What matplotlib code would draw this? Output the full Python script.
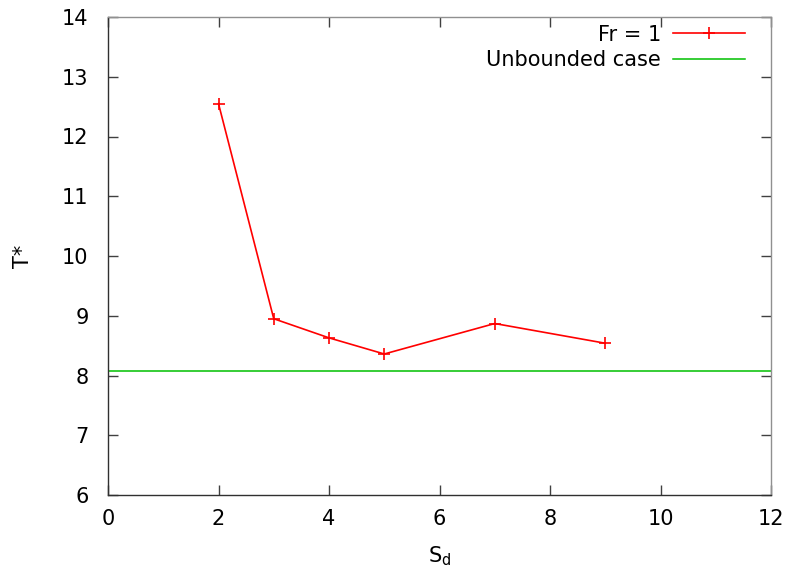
import matplotlib.pyplot as plt

# Period T* against separation S_d, Fr = 1
sd = [2, 3, 4, 5, 7, 9]
t_star = [12.55, 8.95, 8.63, 8.36, 8.87, 8.54]
t_unbounded = 8.08

x_ticks = [0, 2, 4, 6, 8, 10, 12]
y_ticks = [6, 7, 8, 9, 10, 11, 12, 13, 14]

plt.rcParams["font.family"] = "DejaVu Sans"
plt.rcParams["font.size"] = 15

fig = plt.figure(figsize=(7.88, 5.7), dpi=100)
ax = fig.add_axes([108 / 788, 1 - 495 / 570, (771 - 108) / 788, (495 - 17) / 570])

ax.plot(sd, t_star, color="#ff0000", marker="+", markersize=9,
        markeredgewidth=1.2, linewidth=1.2, label="Fr = 1")
ax.axhline(t_unbounded, color="#00c000", linewidth=1.1, label="Unbounded case")

ax.set_xlim(0, 12)
ax.set_ylim(6, 14)
ax.set_xticks(x_ticks)
ax.set_yticks(y_ticks)
ax.tick_params(direction="in", length=7, width=1, top=True, right=True,
               color="#404040")
ax.tick_params(axis="x", pad=10)
ax.tick_params(axis="y", pad=14)
for name, side in ax.spines.items():
    side.set_color("#303030" if name in ("left", "bottom") else "#909090")
    side.set_linewidth(1)

ax.set_xlabel("S$_\\mathregular{d}$", labelpad=11)
ax.set_ylabel("T*", labelpad=21)

ax.legend(loc="upper right", bbox_to_anchor=(0.961, 0.984), markerfirst=False,
          frameon=False, handlelength=3.45, borderaxespad=0, borderpad=0,
          labelspacing=0.25, handletextpad=0.6)

fig.savefig("out.png", dpi=100)
